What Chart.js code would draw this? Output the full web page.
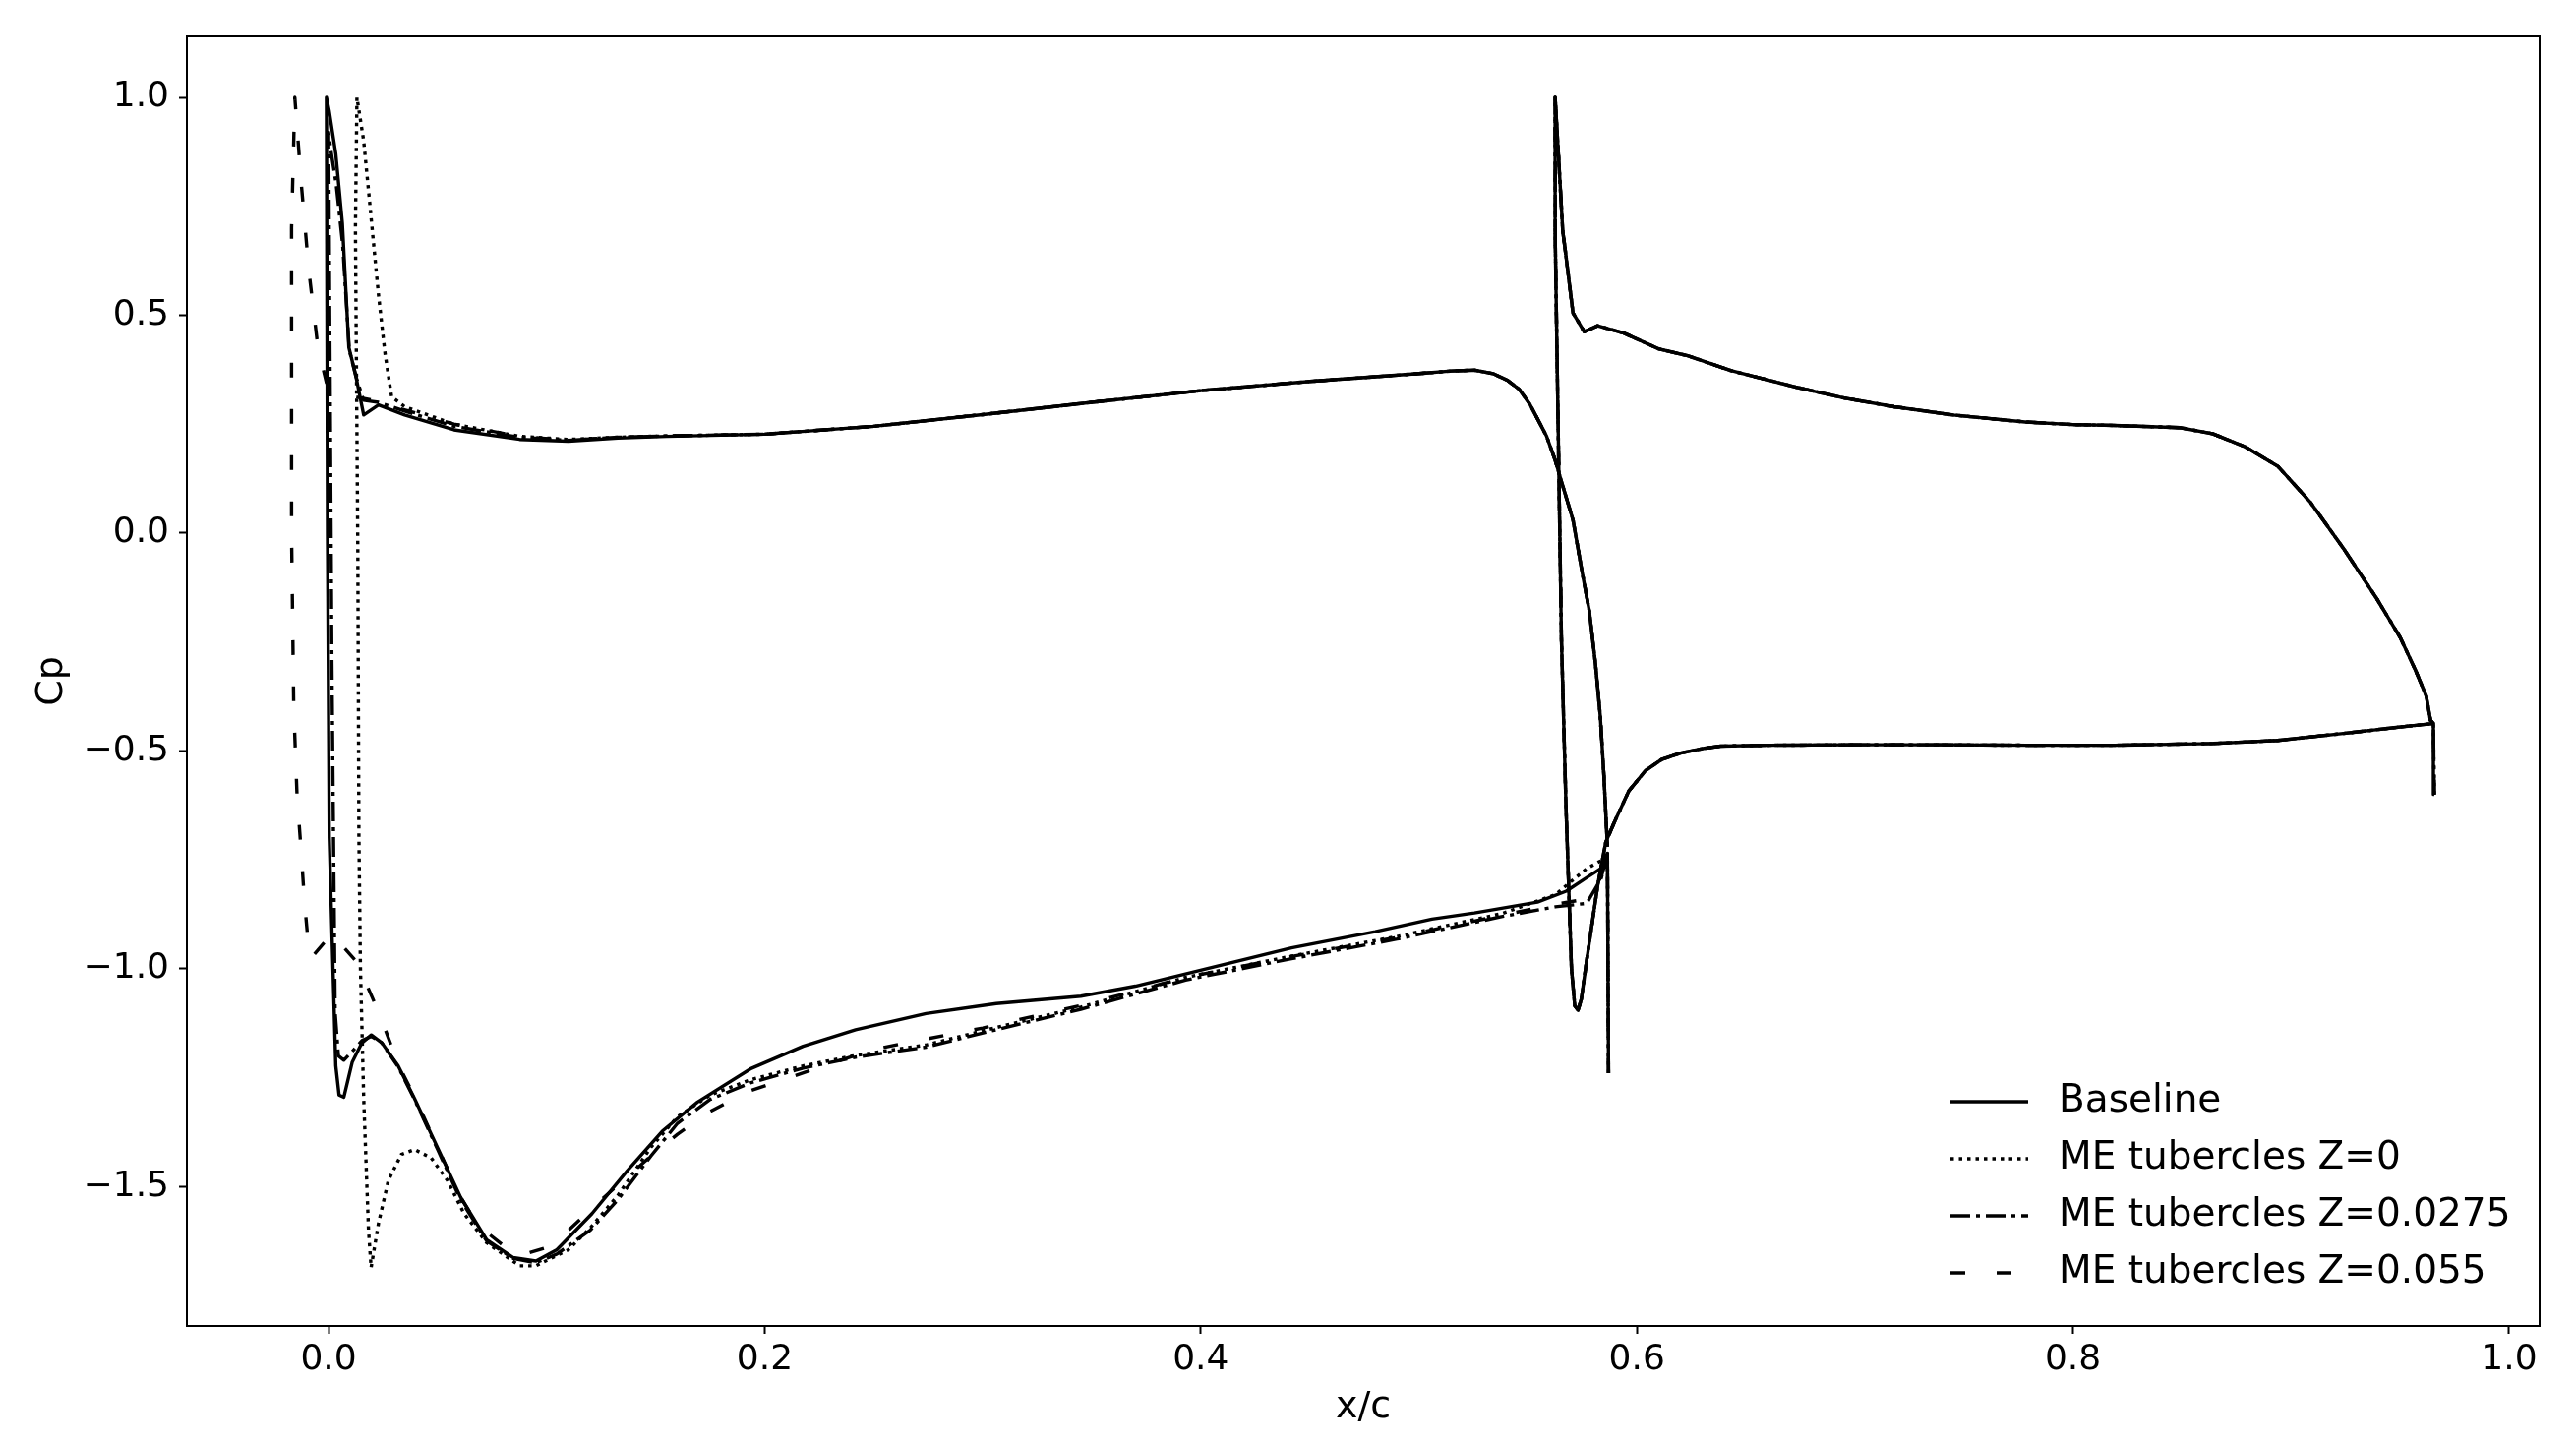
<!DOCTYPE html>
<html><head><meta charset="utf-8">
<script src="https://cdn.jsdelivr.net/npm/chart.js@4.4.1/dist/chart.umd.min.js"></script>
<style>html,body{margin:0;padding:0;background:#fff;}canvas{display:block;}</style>
</head><body>
<canvas id="c" width="2619" height="1468"></canvas>
<script>
// ---------- data ----------
const seriesLabels = ["Baseline", "ME tubercles Z=0", "ME tubercles Z=0.0275", "ME tubercles Z=0.055"];
const xTicks = [0.0, 0.2, 0.4, 0.6, 0.8, 1.0];
const yTicks = [-1.5, -1.0, -0.5, 0.0, 0.5, 1.0];

// Main element, Baseline (TE spike -> suction side to LE -> pressure side to TE)
const baseMeX = [0.587,0.5865,0.585,0.5767,0.5676,0.5544,0.5255,0.506,0.48,0.4416,0.393,0.37,0.345,0.3062,0.274,0.2417,0.2176,0.1934,0.1692,0.153,0.1369,0.1208,0.1047,0.0951,0.0846,0.0725,0.0605,0.05,0.0394,0.0319,0.0244,0.0196,0.0153,0.0108,0.007,0.0048,0.0033,0.0003,-0.0005,-0.001,
  0.0003,0.0033,0.0063,0.0093,0.0123,0.0161,0.0229,0.0349,0.0575,0.0876,0.11,0.1327,0.155,0.2,0.25,0.3,0.35,0.4,0.45,0.5,0.515,0.5255,0.534,0.5405,0.546,0.551,0.5586,0.5624,0.5665,0.5707,0.575,0.5782,0.581,0.5832,0.5848,0.5858,0.5865];
const baseMeCp = [-1.24,-0.735,-0.765,-0.792,-0.822,-0.847,-0.872,-0.886,-0.915,-0.952,-1.012,-1.04,-1.063,-1.08,-1.103,-1.14,-1.178,-1.23,-1.306,-1.373,-1.464,-1.562,-1.645,-1.671,-1.663,-1.622,-1.524,-1.411,-1.298,-1.223,-1.17,-1.152,-1.17,-1.215,-1.295,-1.29,-1.223,-0.7,0.0,1.0,
  0.968,0.87,0.712,0.426,0.365,0.271,0.294,0.271,0.237,0.215,0.211,0.218,0.222,0.227,0.245,0.272,0.3,0.327,0.348,0.366,0.372,0.374,0.366,0.351,0.33,0.295,0.222,0.169,0.1,0.03,-0.093,-0.179,-0.3,-0.42,-0.55,-0.65,-0.72];

// Main element, ME tubercles Z=0
const z0MeX = [0.587,0.5865,0.5836,0.577,0.5626,0.5384,0.49,0.4416,0.393,0.345,0.3062,0.274,0.2417,0.2176,0.1934,0.175,0.16,0.1478,0.1327,0.12,0.11,0.0951,0.0876,0.0725,0.062,0.0545,0.047,0.0394,0.0334,0.0274,0.0229,0.0195,0.0183,0.0161,0.0146,0.0139,0.0134,0.0123,0.013,
  0.0161,0.0183,0.0206,0.0229,0.0259,0.0289,0.0349,0.0575,0.0876,0.11,0.1327,0.155,0.2,0.25,0.3,0.35,0.4,0.45,0.5,0.515,0.5255,0.534,0.5405,0.546,0.551,0.5586,0.5624,0.5665,0.5707,0.575,0.5782,0.581,0.5832,0.5848,0.5858,0.5865];
const z0MeCp = [-1.24,-0.73,-0.752,-0.77,-0.83,-0.873,-0.926,-0.971,-1.02,-1.088,-1.135,-1.175,-1.199,-1.223,-1.255,-1.29,-1.34,-1.41,-1.52,-1.595,-1.645,-1.682,-1.682,-1.629,-1.561,-1.486,-1.434,-1.415,-1.426,-1.486,-1.584,-1.686,-1.599,-1.298,-0.997,-0.696,-0.04,0.7,1.0,
  0.9,0.787,0.666,0.546,0.411,0.313,0.29,0.25,0.222,0.215,0.22,0.223,0.227,0.245,0.272,0.3,0.327,0.348,0.366,0.372,0.374,0.366,0.351,0.33,0.295,0.222,0.169,0.1,0.03,-0.093,-0.179,-0.3,-0.42,-0.55,-0.65,-0.72];

// Main element, ME tubercles Z=0.0275
const z1MeX = [0.587,0.5865,0.5836,0.577,0.5626,0.5384,0.49,0.4416,0.393,0.345,0.3062,0.274,0.2417,0.2176,0.1934,0.175,0.16,0.1478,0.1327,0.12,0.1047,0.0951,0.0846,0.0725,0.0605,0.05,0.0394,0.0319,0.0244,0.0196,0.0153,0.0108,0.007,0.0045,0.003,0.0015,0.0005,0.0,
  0.001,0.0035,0.0065,0.0095,0.0125,0.016,0.0229,0.0349,0.0575,0.0876,0.11,0.1327,0.155,0.2,0.25,0.3,0.35,0.4,0.45,0.5,0.515,0.5255,0.534,0.5405,0.546,0.551,0.5586,0.5624,0.5665,0.5707,0.575,0.5782,0.581,0.5832,0.5848,0.5858,0.5865];
const z1MeCp = [-1.24,-0.74,-0.793,-0.85,-0.858,-0.88,-0.932,-0.977,-1.026,-1.093,-1.14,-1.18,-1.203,-1.228,-1.262,-1.3,-1.355,-1.43,-1.53,-1.6,-1.655,-1.675,-1.665,-1.625,-1.53,-1.415,-1.3,-1.225,-1.17,-1.155,-1.165,-1.19,-1.21,-1.2,-1.1,-0.3,0.5,0.92,
  0.88,0.8,0.66,0.42,0.36,0.305,0.3,0.28,0.245,0.22,0.213,0.22,0.223,0.227,0.245,0.272,0.3,0.327,0.348,0.366,0.372,0.374,0.366,0.351,0.33,0.295,0.222,0.169,0.1,0.03,-0.093,-0.179,-0.3,-0.42,-0.55,-0.65,-0.72];

// Main element, ME tubercles Z=0.055
const z2MeX = [0.587,0.5865,0.5836,0.577,0.5626,0.5384,0.49,0.4416,0.393,0.346,0.326,0.3,0.25,0.22,0.1934,0.174,0.16,0.1478,0.124,0.109,0.1,0.09,0.0846,0.0725,0.068,0.06,0.05,0.04,0.032,0.023,0.016,0.013,0.0015,-0.008,-0.009,-0.011,-0.0126,-0.0145,-0.016,-0.017,-0.017,-0.0155,
  -0.0125,-0.009,-0.005,-0.001,0.01,0.02,0.03,0.0575,0.0876,0.11,0.1327,0.155,0.2,0.25,0.3,0.35,0.4,0.45,0.5,0.515,0.5255,0.534,0.5405,0.546,0.551,0.5586,0.5624,0.5665,0.5707,0.575,0.5782,0.581,0.5832,0.5848,0.5858,0.5865];
const z2MeCp = [-1.24,-0.74,-0.79,-0.84,-0.852,-0.877,-0.928,-0.972,-1.02,-1.083,-1.106,-1.136,-1.185,-1.235,-1.28,-1.33,-1.38,-1.43,-1.535,-1.605,-1.64,-1.655,-1.653,-1.605,-1.585,-1.52,-1.41,-1.3,-1.22,-1.1,-1.02,-0.985,-0.92,-0.975,-0.96,-0.85,-0.73,-0.6,-0.4,0.0,0.7,1.0,
  0.8,0.6,0.43,0.345,0.315,0.305,0.29,0.25,0.222,0.213,0.22,0.223,0.227,0.245,0.272,0.3,0.327,0.348,0.366,0.372,0.374,0.366,0.351,0.33,0.295,0.222,0.169,0.1,0.03,-0.093,-0.179,-0.3,-0.42,-0.55,-0.65,-0.72];

// Flap element (same for all configurations)
const flapX = [0.9657,0.9653,0.964,0.954,0.924,0.894,0.864,0.819,0.78,0.74,0.70,0.66,0.6384,0.6309,0.62,0.6113,0.604,0.5963,0.590,0.5857,0.582,0.577,0.5745,0.573,0.5715,0.570,0.5675,0.5654,0.5626,0.5625,
  0.5639,0.566,0.5669,0.5707,0.5759,0.582,0.5827,0.594,0.6098,0.6233,0.643,0.673,0.695,0.718,0.745,0.778,0.80,0.819,0.849,0.864,0.879,0.894,0.909,0.924,0.939,0.95,0.957,0.962,0.964,0.9653];
const flapCp = [-0.60,-0.437,-0.438,-0.443,-0.46,-0.476,-0.483,-0.487,-0.487,-0.486,-0.486,-0.487,-0.489,-0.494,-0.505,-0.52,-0.545,-0.592,-0.66,-0.71,-0.81,-0.98,-1.07,-1.095,-1.085,-1.0,-0.63,-0.244,0.66,1.0,
  0.88,0.693,0.659,0.505,0.462,0.476,0.475,0.459,0.423,0.407,0.373,0.335,0.31,0.29,0.271,0.255,0.249,0.247,0.242,0.228,0.198,0.153,0.07,-0.035,-0.148,-0.239,-0.314,-0.374,-0.43,-0.437];

// ---------- build ----------
function pts(xs, ys) { return xs.map((x, i) => ({ x: x, y: ys[i] })); }
function loop(meX, meCp) {
  return pts(meX, meCp).concat([{ x: meX[meX.length - 1], y: null }], pts(flapX, flapCp));
}
const meSets = [[baseMeX, baseMeCp], [z0MeX, z0MeCp], [z1MeX, z1MeCp], [z2MeX, z2MeCp]];
const dashes = [[], [3.5, 5], [20, 6, 4, 6], [15, 32]];
const FONT = 'DejaVu Sans';
const fmt = v => (v < 0 ? '\u2212' : '') + Math.abs(v).toFixed(1);

const datasets = meSets.map((s, i) => ({
  label: seriesLabels[i],
  data: loop(s[0], s[1]),
  borderColor: '#000',
  borderWidth: 3.4,
  borderDash: dashes[i],
  borderCapStyle: 'butt',
  borderJoinStyle: 'round',
  pointRadius: 0,
  tension: 0,
  fill: false,
  spanGaps: false
}));

const framePlugin = {
  id: 'frame',
  afterDraw(chart) {
    const { ctx, chartArea: a } = chart;
    ctx.save();
    ctx.strokeStyle = '#000';
    ctx.lineWidth = 2;
    ctx.setLineDash([]);
    ctx.strokeRect(a.left, a.top, a.right - a.left, a.bottom - a.top);
    ctx.restore();
  }
};

const legendPlugin = {
  id: 'innerLegend',
  afterDraw(chart) {
    const { ctx, chartArea: a } = chart;
    const x0 = a.right - 599, x1 = x0 + 79, tx = x0 + 110;
    let y = a.bottom - 228;
    chart.data.datasets.forEach(ds => {
      ctx.save();
      ctx.strokeStyle = '#000';
      ctx.lineWidth = ds.borderWidth;
      ctx.lineCap = 'butt';
      ctx.setLineDash(ds.borderDash || []);
      ctx.beginPath();
      ctx.moveTo(x0, y);
      ctx.lineTo(x1, y);
      ctx.stroke();
      ctx.setLineDash([]);
      ctx.fillStyle = '#000';
      ctx.font = '39px "' + FONT + '"';
      ctx.textBaseline = 'middle';
      ctx.textAlign = 'left';
      ctx.fillText(ds.label, tx, y);
      ctx.restore();
      y += 58;
    });
  }
};

const tickFont = { family: FONT, size: 36 };
const titleFont = { family: FONT, size: 38 };

new Chart(document.getElementById('c'), {
  type: 'line',
  data: { datasets: datasets },
  plugins: [framePlugin, legendPlugin],
  options: {
    responsive: false,
    animation: false,
    devicePixelRatio: 1,
    layout: { padding: { left: 0, top: 37, right: 37, bottom: 0 } },
    plugins: { legend: { display: false }, tooltip: { enabled: false } },
    scales: {
      x: {
        type: 'linear',
        min: -0.065, max: 1.014,
        afterBuildTicks: s => { s.ticks = xTicks.map(v => ({ value: v })); },
        afterFit: s => { s.height = 120; },
        ticks: { callback: v => fmt(v), font: tickFont, color: '#000', padding: 5, maxRotation: 0, autoSkip: false },
        grid: { display: true, drawOnChartArea: false, drawTicks: true, tickLength: 8, tickWidth: 2, tickColor: '#000' },
        border: { display: true, color: '#000', width: 2 },
        title: { display: true, text: 'x/c', font: titleFont, color: '#000', padding: { top: 0, bottom: 14 } }
      },
      y: {
        type: 'linear',
        min: -1.82, max: 1.14,
        afterBuildTicks: s => { s.ticks = yTicks.map(v => ({ value: v })); },
        afterFit: s => { s.width = 190; },
        ticks: { callback: v => fmt(v), font: tickFont, color: '#000', padding: 10, autoSkip: false },
        grid: { display: true, drawOnChartArea: false, drawTicks: true, tickLength: 8, tickWidth: 2, tickColor: '#000' },
        border: { display: true, color: '#000', width: 2 },
        title: { display: true, text: 'Cp', font: titleFont, color: '#000', padding: { top: 30, bottom: 0 } }
      }
    }
  }
});
</script>
</body></html>
